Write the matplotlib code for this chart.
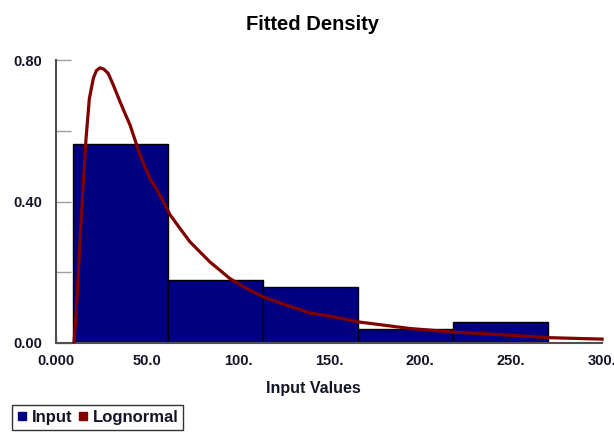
import matplotlib.pyplot as plt
from matplotlib.lines import Line2D

plt.rcParams['font.family'] = ['Liberation Sans', 'DejaVu Sans']
plt.rcParams['font.weight'] = 'bold'

# histogram of input (relative frequency per bin)
bin_edges = [9.5, 61.7, 113.9, 166.1, 218.3, 270.5]
input_freq = [0.562, 0.179, 0.158, 0.039, 0.059]

# fitted lognormal curve
curve_x = [9.9, 11.0, 12.3, 13.6, 15.0, 16.5, 18.3, 20.5, 22.2, 24.2, 26.3,
           28.7, 31.5, 35.2, 37.9, 40.7, 46.2, 51.6, 57.1, 62.6, 68.1, 73.6,
           84.6, 95.6, 104.8, 113.9, 126.7, 139.6, 152.4, 167.0, 194.5, 218.3,
           249.5, 271.4, 300.0]
curve_y = [0.003, 0.078, 0.20, 0.324, 0.456, 0.578, 0.69, 0.748, 0.770, 0.778,
           0.774, 0.762, 0.729, 0.682, 0.649, 0.616, 0.531, 0.465, 0.418, 0.363,
           0.324, 0.286, 0.229, 0.182, 0.154, 0.130, 0.107, 0.085, 0.074, 0.059,
           0.041, 0.031, 0.022, 0.015, 0.011]

x_ticks = [0, 50, 100, 150, 200, 250, 300]
x_labels = ["0.000", "50.0", "100.", "150.", "200.", "250.", "300."]
y_ticks = [0.0, 0.4, 0.8]
y_labels = ["0.00", "0.40", "0.80"]
y_minor = [0.2, 0.6]

W, H = 614, 432
fig = plt.figure(figsize=(W / 100, H / 100), dpi=100)
ax = fig.add_axes([56 / W, (H - 343) / H, (602 - 56) / W, (343 - 60) / H])

widths = [b - a for a, b in zip(bin_edges[:-1], bin_edges[1:])]
ax.bar(bin_edges[:-1], input_freq, width=widths, align='edge',
       color='#000080', edgecolor='black', linewidth=1.0, zorder=2)
ax.plot(curve_x, curve_y, color='#800000', linewidth=2.3, zorder=3,
        solid_joinstyle='round', clip_on=False)

ax.set_xlim(0, 300)
ax.set_ylim(0, 0.8)
ax.set_xticks(x_ticks)
ax.set_xticklabels(x_labels)
ax.set_yticks(y_ticks)
ax.set_yticklabels(y_labels)
ax.set_yticks(y_minor, minor=True)

ax.tick_params(axis='x', direction='in', length=4, width=1, color='#c8c8c8',
               pad=8, labelsize=10.5)
ax.tick_params(axis='y', which='both', direction='in', length=11, width=1,
               color='#a0a0a0', pad=10, labelsize=10.5)
for lab in ax.get_xticklabels() + ax.get_yticklabels():
    lab.set_fontweight('bold')
    lab.set_color('#141428')

for s in ['top', 'right']:
    ax.spines[s].set_visible(False)
for s in ['left', 'bottom']:
    ax.spines[s].set_color('#505050')
    ax.spines[s].set_linewidth(1.5)

fig.text(313 / W, 1 - 25 / H, "Fitted Density", ha='center', va='center',
         fontsize=14.5, fontweight='bold', color='black')
fig.text(313 / W, 1 - 389 / H, "Input Values", ha='center', va='center',
         fontsize=11.5, fontweight='bold', color='#141428')

handles = [Line2D([], [], marker='s', linestyle='none', color='#000080', markersize=6),
           Line2D([], [], marker='s', linestyle='none', color='#800000', markersize=6)]
leg = fig.legend(handles, ["Input", "Lognormal"], loc='upper left',
                 bbox_to_anchor=(12 / W, 1 - 405 / H), ncol=2, fontsize=12,
                 frameon=True, fancybox=False, borderpad=0.3, handlelength=0.6,
                 handletextpad=0.3, columnspacing=0.3, borderaxespad=0)
leg.get_frame().set_edgecolor('black')
leg.get_frame().set_linewidth(1.0)
for t in leg.get_texts():
    t.set_fontweight('bold')
    t.set_color('#141428')

fig.savefig('out.png', dpi=100)
